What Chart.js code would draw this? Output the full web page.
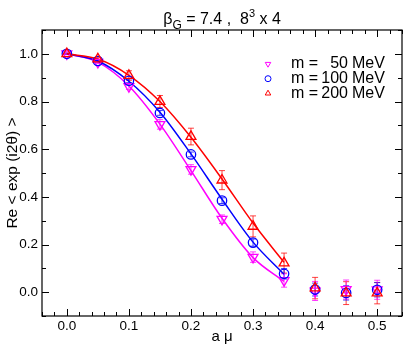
<!DOCTYPE html>
<html>
<head>
<meta charset="utf-8">
<script src="https://cdn.jsdelivr.net/npm/chart.js@4.4.0/dist/chart.umd.min.js"></script>
<style>
  html, body { margin: 0; padding: 0; background: #fff; }
  #wrap { width: 409px; height: 348px; position: relative; }
</style>
</head>
<body>
<div id="wrap"><canvas id="chartPhase"></canvas></div>
<script>
// a*mu values of the measured points
const aMu = [0, 0.05, 0.1, 0.15, 0.2, 0.25, 0.3, 0.35, 0.4, 0.45, 0.5];

// Re <exp(i2theta)> for each quark mass, with errors
const re50 = [1.0, 0.965, 0.863, 0.704, 0.515, 0.306, 0.147, 0.049, 0.005, 0.011, 0.010];
const err50 = [0.003, 0.006, 0.012, 0.02, 0.02, 0.018, 0.022, 0.028, 0.04, 0.04, 0.04];
const re100 = [1.0, 0.97, 0.887, 0.752, 0.578, 0.384, 0.208, 0.077, 0.011, -0.003, 0.010];
const err100 = [0.003, 0.005, 0.008, 0.01, 0.01, 0.012, 0.015, 0.022, 0.027, 0.03, 0.03];
const re200 = [1.0, 0.978, 0.909, 0.80, 0.653, 0.47, 0.276, 0.122, 0.017, -0.004, -0.004];
const err200 = [0.003, 0.008, 0.02, 0.025, 0.035, 0.04, 0.044, 0.042, 0.045, 0.048, 0.045];

// fit curves
const fitMu = [0, 0.05, 0.1, 0.15, 0.2, 0.25, 0.3, 0.35];
const fit50 = [1.0, 0.965, 0.865, 0.705, 0.51, 0.31, 0.145, 0.045];
const fit100 = [1.0, 0.97, 0.885, 0.755, 0.58, 0.39, 0.21, 0.075];
const fit200 = [1.0, 0.978, 0.91, 0.80, 0.65, 0.475, 0.29, 0.125];

const xTicks = [0, 0.1, 0.2, 0.3, 0.4, 0.5];
const yTicks = [0, 0.2, 0.4, 0.6, 0.8, 1.0];
const xMinor = 0.02;
const yMinor = 0.1;

const FONT = "'Liberation Sans', Arial, sans-serif";

// red drawn first so it ends on top
const series = [
  { mass: "200", color: "#ff0000", bar: "rgba(255,0,0,0.75)", style: "triangle", rot: 0, vals: re200, errs: err200, fit: fit200 },
  { mass: "100", color: "#0000ff", bar: "rgba(0,0,255,0.75)", style: "circle", rot: 0, vals: re100, errs: err100, fit: fit100 },
  { mass: "50", color: "#ff00ff", bar: "rgba(255,0,255,0.75)", style: "triangle", rot: 180, vals: re50, errs: err50, fit: fit50 },
];

const datasets = [];
series.forEach((s) => {
  datasets.push({
    label: "m = " + s.mass + " MeV",
    data: aMu.map((x, i) => ({ x, y: s.vals[i] })),
    pointStyle: s.style,
    rotation: s.rot,
    pointRadius: s.style === "circle" ? 4.7 : 5.7,
    borderColor: s.color,
    backgroundColor: "rgba(0,0,0,0)",
    borderWidth: 1.3,
    showLine: false,
  });
});
series.forEach((s) => {
  datasets.push({
    label: "fit " + s.mass,
    data: fitMu.map((x, i) => ({ x, y: s.fit[i] })),
    showLine: true,
    pointRadius: 0,
    borderColor: s.color,
    borderWidth: 1.5,
    cubicInterpolationMode: "monotone",
    fill: false,
  });
});

// error bars under the markers
const errorBars = {
  id: "errorBars",
  beforeDatasetsDraw(chart) {
    const { ctx, scales: { x, y } } = chart;
    ctx.save();
    ctx.lineWidth = 1;
    series.forEach((s) => {
      ctx.strokeStyle = s.bar;
      aMu.forEach((a, i) => {
        const px = x.getPixelForValue(a);
        const top = y.getPixelForValue(s.vals[i] + s.errs[i]);
        const bot = y.getPixelForValue(s.vals[i] - s.errs[i]);
        ctx.beginPath();
        ctx.moveTo(px, top); ctx.lineTo(px, bot);
        ctx.moveTo(px - 3, top); ctx.lineTo(px + 3, top);
        ctx.moveTo(px - 3, bot); ctx.lineTo(px + 3, bot);
        ctx.stroke();
      });
    });
    ctx.restore();
  },
};

// frame with inward ticks on all four sides, legend and title
const frame = {
  id: "frame",
  afterDraw(chart) {
    const { ctx, chartArea: a, scales: { x, y } } = chart;
    ctx.save();
    ctx.strokeStyle = "#000";
    ctx.lineWidth = 1.2;
    ctx.strokeRect(a.left, a.top, a.right - a.left, a.bottom - a.top);

    ctx.lineWidth = 1;
    ctx.beginPath();
    for (let v = -0.04; v <= 0.5401; v += xMinor) {
      const px = Math.round(x.getPixelForValue(v)) + 0.5;
      const major = xTicks.some((t) => Math.abs(t - v) < 1e-6);
      const len = major ? 7 : 4;
      ctx.moveTo(px, a.bottom); ctx.lineTo(px, a.bottom - len);
      ctx.moveTo(px, a.top); ctx.lineTo(px, a.top + len);
    }
    for (let v = -0.1; v <= 1.1001; v += yMinor) {
      const py = Math.round(y.getPixelForValue(v)) + 0.5;
      const major = yTicks.some((t) => Math.abs(t - v) < 1e-6);
      const len = major ? 7 : 4;
      ctx.moveTo(a.left, py); ctx.lineTo(a.left + len, py);
      ctx.moveTo(a.right, py); ctx.lineTo(a.right - len, py);
    }
    ctx.stroke();

    // legend
    const legendRows = [series[2], series[1], series[0]];
    legendRows.forEach((s, i) => {
      const ly = 64 + i * 14.7;
      ctx.strokeStyle = s.color;
      ctx.fillStyle = "rgba(0,0,0,0)";
      Chart.helpers.drawPoint(ctx, {
        pointStyle: s.style, rotation: s.rot,
        radius: s.style === "circle" ? 3 : 3.2, borderWidth: 1.5,
      }, 268, ly);
      ctx.fillStyle = "#000";
      ctx.font = "16px " + FONT;
      ctx.textBaseline = "middle";
      ctx.textAlign = "left";
      ctx.fillText("m =", 291, ly);
      ctx.textAlign = "right";
      ctx.fillText(s.mass, 348, ly);
      ctx.textAlign = "left";
      ctx.fillText("MeV", 352, ly);
    });

    // title: beta_G = 7.4 , 8^3 x 4
    const parts = [
      { t: "β", size: 16, dy: 0 },
      { t: "G", size: 12, dy: 5 },
      { t: " = 7.4 ,  8", size: 16, dy: 0 },
      { t: "3", size: 11, dy: -7 },
      { t: " x 4", size: 16, dy: 0 },
    ];
    let total = 0;
    parts.forEach((p) => { ctx.font = p.size + "px " + FONT; p.w = ctx.measureText(p.t).width; total += p.w; });
    let tx = (a.left + a.right) / 2 - total / 2;
    ctx.textAlign = "left";
    ctx.textBaseline = "alphabetic";
    parts.forEach((p) => {
      ctx.font = p.size + "px " + FONT;
      ctx.fillText(p.t, tx, 24 + p.dy);
      tx += p.w;
    });
    ctx.restore();
  },
};

new Chart(document.getElementById("chartPhase").getContext("2d"), {
  type: "scatter",
  data: { datasets },
  options: {
    responsive: true,
    maintainAspectRatio: false,
    animation: false,
    layout: { padding: { top: 30, right: 3, left: 0, bottom: 0 } },
    plugins: { legend: { display: false }, tooltip: { enabled: false } },
    scales: {
      x: {
        type: "linear",
        min: -0.04,
        max: 0.54,
        afterBuildTicks: (s) => { s.ticks = xTicks.map((v) => ({ value: v })); },
        afterFit: (s) => { s.height = 32; },
        grid: { display: false, drawTicks: false },
        border: { display: false },
        ticks: {
          color: "#000", padding: 2, maxRotation: 0,
          font: { size: 13.5, family: FONT },
          callback: (v) => v.toFixed(1),
        },
        title: {
          display: true, text: "a μ", color: "#000",
          font: { size: 15, family: FONT }, padding: { top: 0, bottom: 2 },
        },
      },
      y: {
        type: "linear",
        min: -0.1,
        max: 1.1,
        afterBuildTicks: (s) => { s.ticks = yTicks.map((v) => ({ value: v })); },
        afterFit: (s) => { s.width = 42; },
        grid: { display: false, drawTicks: false },
        border: { display: false },
        ticks: {
          color: "#000", padding: 4,
          font: { size: 13.5, family: FONT },
          callback: (v) => v.toFixed(1),
        },
        title: {
          display: true, text: "Re < exp (i2θ) >", color: "#000",
          font: { size: 15.5, family: FONT }, padding: { top: 3, bottom: 0 },
        },
      },
    },
  },
  plugins: [errorBars, frame],
});
</script>
</body>
</html>
